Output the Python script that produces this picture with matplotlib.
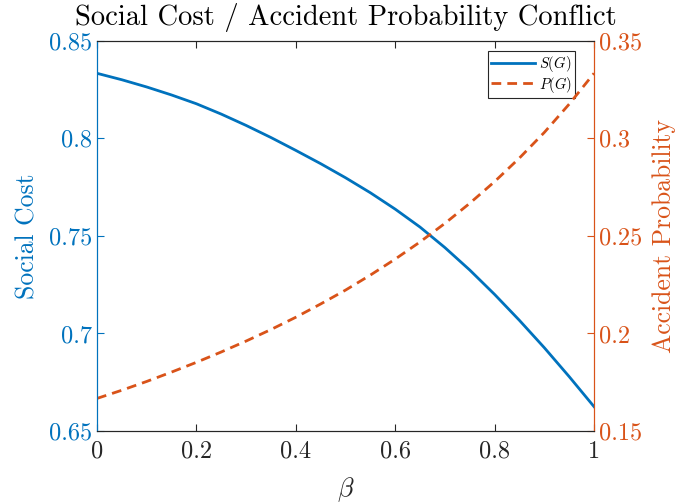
import matplotlib
matplotlib.use("Agg")
import matplotlib.pyplot as plt

# data
beta = [0.00, 0.05, 0.10, 0.15, 0.20, 0.25, 0.30, 0.35, 0.40, 0.45, 0.50,
        0.55, 0.60, 0.65, 0.70, 0.75, 0.80, 0.85, 0.90, 0.95, 1.00]
social_cost = [0.8333, 0.8300, 0.8263, 0.8222, 0.8177, 0.8124, 0.8066, 0.8004,
               0.7938, 0.7870, 0.7798, 0.7721, 0.7637, 0.7545, 0.7440, 0.7325,
               0.7200, 0.7067, 0.6927, 0.6779, 0.6625]
accident_prob = [0.1667, 0.1709, 0.1754, 0.1802, 0.1852, 0.1905, 0.1961, 0.2020,
                 0.2083, 0.2151, 0.2222, 0.2299, 0.2381, 0.2469, 0.2564, 0.2667,
                 0.2778, 0.2899, 0.3030, 0.3175, 0.3333]
x_ticks = [0, 0.2, 0.4, 0.6, 0.8, 1]
left_ticks = [0.65, 0.7, 0.75, 0.8, 0.85]
right_ticks = [0.15, 0.2, 0.25, 0.3, 0.35]

blue = '#0072BD'
orange = '#D95319'
dark = '#262626'

plt.rcParams['font.family'] = 'serif'
plt.rcParams['font.serif'] = ['cmr10']
plt.rcParams['mathtext.fontset'] = 'cm'
plt.rcParams['axes.formatter.use_mathtext'] = True

fig = plt.figure(figsize=(6.75, 5.04), dpi=100)
ax = fig.add_axes([0.1437, 0.1448, 0.7363, 0.7744])
ax2 = ax.twinx()

l1, = ax.plot(beta, social_cost, color=blue, lw=2, label='$S(G)$')
l2, = ax2.plot(beta, accident_prob, color=orange, lw=2, ls='--',
               dashes=(3.5, 2.2), label='$P(G)$')

ax.set_xlim(0, 1)
ax.set_ylim(0.65, 0.85)
ax2.set_ylim(0.15, 0.35)
ax.set_xticks(x_ticks)
ax.set_xticklabels(['0', '0.2', '0.4', '0.6', '0.8', '1'])
ax.set_yticks(left_ticks)
ax.set_yticklabels(['0.65', '0.7', '0.75', '0.8', '0.85'])
ax2.set_yticks(right_ticks)
ax2.set_yticklabels(['0.15', '0.2', '0.25', '0.3', '0.35'])

for a in (ax, ax2):
    a.spines['top'].set_color(dark)
    a.spines['bottom'].set_color(dark)
    a.spines['left'].set_color(blue)
    a.spines['right'].set_color(orange)
    for s in a.spines.values():
        s.set_linewidth(0.8)

ax.tick_params(axis='x', direction='in', top=True, colors=dark, labelsize=17.5,
               length=5, pad=7)
ax.tick_params(axis='y', direction='in', colors=blue, labelsize=17.5, length=5)
ax2.tick_params(axis='y', direction='in', colors=orange, labelsize=17.5, length=5)

ax.set_xlabel(r'$\beta$', fontsize=19, color=dark, labelpad=9)
ax.set_ylabel('Social Cost', fontsize=18.5, color=blue, labelpad=7)
ax2.set_ylabel('Accident Probability', fontsize=18.5, color=orange, labelpad=7)
ax.set_title('Social Cost / Accident Probability Conflict', fontsize=20.5, pad=11)

leg = ax.legend(handles=[l1, l2], loc='upper right', fontsize=10.5,
                fancybox=False, framealpha=1, edgecolor=dark,
                handlelength=3.0, borderpad=0.2, labelspacing=0.05,
                handletextpad=0.3, borderaxespad=0.3,
                bbox_to_anchor=(0.97, 0.985))
leg.get_frame().set_linewidth(0.8)

fig.savefig('out.png', dpi=100)
